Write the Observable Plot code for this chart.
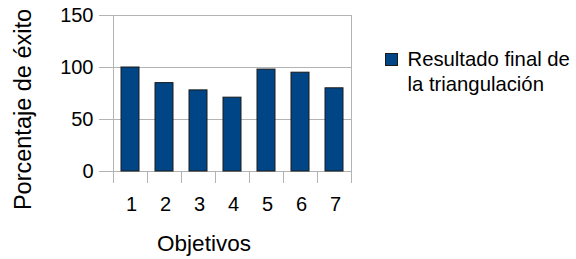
<!DOCTYPE html>
<html><head><meta charset="utf-8">
<script src="https://cdn.jsdelivr.net/npm/d3@7"></script>
<script src="https://cdn.jsdelivr.net/npm/@observablehq/plot@0.6"></script>
<style>
body{margin:0;background:#fff;}
#wrap{position:relative;width:576px;height:259px;font-family:"Liberation Sans",Arial,sans-serif;color:#000;}
#legend{position:absolute;left:385px;top:47px;font-size:20.3px;line-height:25px;}
#legend .sw{position:absolute;left:0;top:6px;width:11px;height:11px;background:#004586;border:0.5px solid #1a1a1a;}
#legend .tx{position:absolute;left:22.5px;top:0;white-space:nowrap;}
</style></head>
<body><div id="wrap"><div id="legend"><div class="sw"></div><div class="tx">Resultado final de<br>la triangulación</div></div></div>
<script>
const objetivos = [1, 2, 3, 4, 5, 6, 7];
const porcentajes = [100, 85, 78, 71, 98, 95, 80];
const yTicks = [0, 50, 100, 150];
const serie = "Resultado final de la triangulación";
const data = objetivos.map((o, i) => ({objetivo: o, porcentaje: porcentajes[i]}));
const gray = "#b3b3b3";

const boundaries = (index, scales) => {
  const x = scales.x, y = scales.y;
  const bw = x.bandwidth(), step = x.step();
  const y0 = y(0), yTop = y(150);
  const g = d3.create("svg:g").attr("stroke", gray).attr("stroke-width", 1);
  const first = x(objetivos[0]) + bw / 2 - step / 2;
  for (let i = 0; i <= objetivos.length; i++) {
    const xx = Math.round(first + i * step) + 0.5;
    const top = (i === 0 || i === objetivos.length) ? yTop : y0;
    g.append("line").attr("x1", xx).attr("x2", xx).attr("y1", top).attr("y2", y0 + 12);
  }
  return g.node();
};

const chart = Plot.plot({
  width: 576, height: 259,
  marginLeft: 112, marginRight: 224, marginTop: 15, marginBottom: 88,
  style: {fontFamily: "Liberation Sans, Arial, sans-serif", fontSize: "20px", color: "#000", background: "transparent", overflow: "visible"},
  x: {type: "band", domain: objetivos, paddingInner: 0.48, paddingOuter: 0.24, label: null},
  y: {domain: [0, 150], label: null},
  marks: [
    Plot.gridY(yTicks, {stroke: gray, strokeOpacity: 1}),
    Plot.axisY(yTicks, {tickSize: 13, tickPadding: 6, stroke: gray, strokeOpacity: 1, fill: "#000", fontSize: 20, label: null}),
    boundaries,
    Plot.axisX(objetivos, {tickSize: 0, tickPadding: 25, fill: "#000", fontSize: 20, label: null, dx: 1}),
    Plot.barY(data, {x: "objetivo", y: "porcentaje", fill: "#004586", stroke: "#1a1a1a", strokeWidth: 1}),
    Plot.text(["Porcentaje de éxito"], {frameAnchor: "left", rotate: -90, dx: -89, dy: 16, textAnchor: "middle", lineAnchor: "middle", fontSize: 23.5, fill: "#000"}),
    Plot.text(["Objetivos"], {frameAnchor: "bottom", dx: -28.5, dy: 72, textAnchor: "middle", lineAnchor: "middle", fontSize: 22.5, fill: "#000"})
  ]
});
chart.style.position = "absolute";
chart.style.left = "0";
chart.style.top = "0";
document.getElementById("wrap").prepend(chart);
</script></body></html>
